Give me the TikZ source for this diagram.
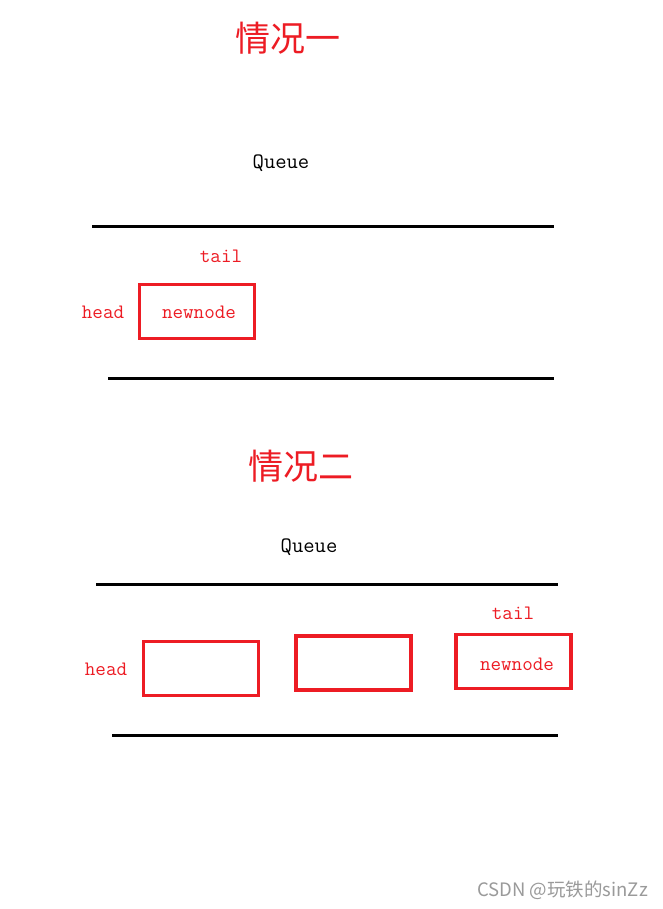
\documentclass[tikz,border=0pt]{standalone}
\usepackage{fontspec}
\newfontfamily\cjk{Noto Sans CJK SC}
\definecolor{pred}{HTML}{ED1C24}
\definecolor{wm}{HTML}{9A9A9A}
\begin{document}
\begin{tikzpicture}[x=1pt,y=-1pt,
  title/.style={text=pred,font=\cjk\fontsize{35}{37}\selectfont,inner sep=0pt},
  qlabel/.style={text=black,font=\ttfamily\fontsize{22}{24}\selectfont,inner sep=0pt},
  rlabel/.style={text=pred,font=\ttfamily\fontsize{20.5}{22}\selectfont,inner sep=0pt},
  qline/.style={line width=3pt,black},
  cell/.style={draw=pred,line width=3.2pt,minimum width=115pt,minimum height=54pt,inner sep=0pt}]
\useasboundingbox[fill=white] (0,0) rectangle (663,909);
% case 1
\node[title] (t1) at (288,38) {情况一};
\node[qlabel] (q1) at (281,163) {Queue};
\coordinate (l1a) at (92,227); \coordinate (l1b) at (554,227);
\draw[qline] (l1a) -- (l1b);
\node[rlabel] (tail1) at (221,256) {tail};
\node[cell] (n1) at (197,311.5) {};
\node[rlabel] (nn1) at (199,312) {newnode};
\node[rlabel] (head1) at (103,312) {head};
\coordinate (l2a) at (108,378); \coordinate (l2b) at (554,378);
\draw[qline] (l2a) -- (l2b);
% case 2
\node[title] (t2) at (301,466) {情况二};
\node[qlabel] (q2) at (309,547) {Queue};
\coordinate (l3a) at (96,584); \coordinate (l3b) at (558,584);
\draw[qline] (l3a) -- (l3b);
\node[rlabel] (tail2) at (513,613) {tail};
\node[rlabel] (head2) at (106,669) {head};
\node[cell] (a) at (201,668.5) {};
\node[cell] (b) at (353.5,663) {};
\node[cell] (c) at (513.5,661.5) {};
\node[rlabel] (nn2) at (517,664) {newnode};
\coordinate (l4a) at (112,735); \coordinate (l4b) at (558,735);
\draw[qline] (l4a) -- (l4b);
% watermark
\node[text=wm,font=\cjk\fontsize{18.5}{20}\selectfont,inner sep=0pt,anchor=east] (wmk) at (648,890) {CSDN @玩铁的sinZz};
\end{tikzpicture}
\end{document}
